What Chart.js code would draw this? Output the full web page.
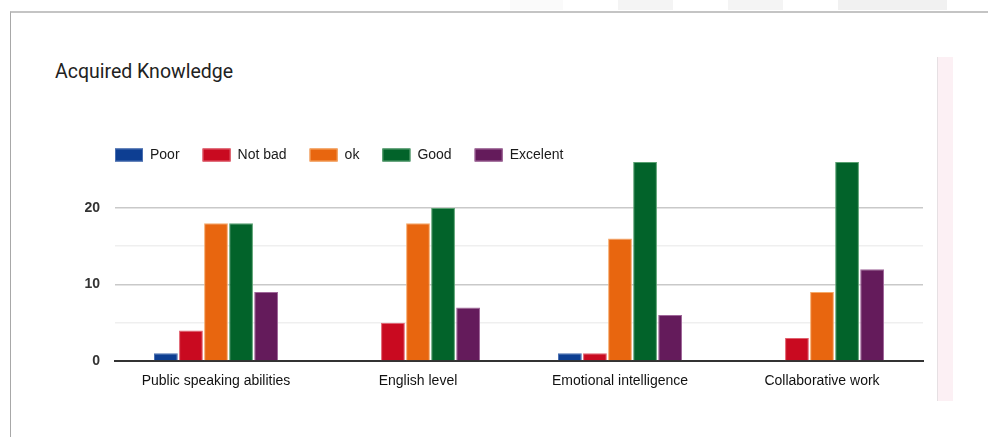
<!DOCTYPE html>
<html>
<head>
<meta charset="utf-8">
<script src="https://cdn.jsdelivr.net/npm/chart.js@4.4.1/dist/chart.umd.min.js"></script>
<style>
  html, body { margin: 0; padding: 0; background: #fff; }
  body { width: 988px; height: 437px; position: relative; overflow: hidden; }
  .tab { position: absolute; top: 0; height: 10px; }
  #frame { position: absolute; left: 10px; top: 11px; right: 0; bottom: 0;
           border-top: 2px solid #c4c4c4; border-left: 1px solid #a8a8a8; }
  #title { position: absolute; left: 55px; top: 60px; line-height: 24px; font-family: Roboto, "Noto Sans", sans-serif;
           font-size: 19.5px; color: #222; }
  #side { position: absolute; left: 937px; top: 57px; width: 16px; height: 344px;
          background: #fcf0f4; border-left: 1px solid #e6e0e3; box-sizing: border-box; }
  #wrap { position: absolute; left: 0; top: 0; width: 988px; height: 437px; }
</style>
</head>
<body>
<div class="tab" style="left:510px;width:53px;background:#fafafa"></div>
<div class="tab" style="left:618px;width:55px;background:#f4f4f4"></div>
<div class="tab" style="left:728px;width:55px;background:#f4f4f4"></div>
<div class="tab" style="left:838px;width:109px;background:#f1f1f1"></div>
<div id="frame"></div>
<div id="title">Acquired Knowledge</div>
<div id="side"></div>
<div id="wrap"><canvas id="c" width="988" height="437"></canvas></div>
<script>
// Survey answers per topic
const categories = ['Public speaking abilities', 'English level', 'Emotional intelligence', 'Collaborative work'];
const seriesNames = ['Poor', 'Not bad', 'ok', 'Good', 'Excelent'];
const poor     = [1, 0, 1, 0];
const notBad   = [4, 5, 1, 3];
const ok       = [18, 18, 16, 9];
const good     = [18, 20, 26, 26];
const excelent = [9, 7, 6, 12];
const yTicksShown = [0, 10, 20];

const fills   = ['#0d3e92', '#c90a20', '#e8660f', '#02632a', '#641b5b'];
const strokes = ['#4a6fb0', '#e0606e', '#f5a968', '#58a070', '#a0679a'];
const seriesValues = [poor, notBad, ok, good, excelent];

// Legend drawn in a single row above the plot area, starting at its left edge
const rowLegend = {
  id: 'rowLegend',
  afterDraw(chart) {
    const ctx = chart.ctx;
    const area = chart.chartArea;
    ctx.save();
    ctx.font = '14px "Liberation Sans", Arial, sans-serif';
    ctx.textBaseline = 'middle';
    let x = area.left;
    const cy = 155;
    chart.data.datasets.forEach(ds => {
      ctx.fillStyle = ds.backgroundColor;
      ctx.fillRect(x, cy - 6.5, 28, 13);
      ctx.strokeStyle = ds.borderColor;
      ctx.lineWidth = 1;
      ctx.strokeRect(x + 0.5, cy - 6, 27, 12);
      ctx.fillStyle = '#1a1a1a';
      ctx.fillText(ds.label, x + 35, cy);
      x += 35 + ctx.measureText(ds.label).width + 23;
    });
    ctx.restore();
  }
};

new Chart(document.getElementById('c'), {
  type: 'bar',
  data: {
    labels: categories,
    datasets: seriesNames.map((name, i) => ({
      label: name,
      data: seriesValues[i],
      backgroundColor: fills[i],
      borderColor: strokes[i],
      borderWidth: 1,
      categoryPercentage: 0.62,
      barPercentage: 0.95
    }))
  },
  options: {
    responsive: false,
    animation: false,
    layout: { padding: { left: 60, right: 65, top: 162, bottom: 40 } },
    plugins: { legend: { display: false }, tooltip: { enabled: false } },
    scales: {
      x: {
        grid: { display: false },
        border: { display: true, color: '#333', width: 2 },
        ticks: { color: '#111', padding: 4, font: { family: '"Liberation Sans", Arial, sans-serif', size: 14 } },
        afterFit(s) { s.height = 36; }
      },
      y: {
        min: 0, max: 26,
        border: { display: false },
        grid: {
          drawTicks: false,
          color: c => {
            const v = c.tick.value;
            if (v === 0 || v === 26) return 'rgba(0,0,0,0)';
            return v % 10 === 0 ? '#c9c9c9' : '#efefef';
          },
          lineWidth: 1.5
        },
        ticks: {
          stepSize: 5,
          padding: 15,
          color: '#333',
          font: { family: '"Liberation Sans", Arial, sans-serif', size: 14, weight: 'bold' },
          callback: v => yTicksShown.includes(v) ? String(v) : ''
        },
        afterFit(s) { s.width = 55; }
      }
    }
  },
  plugins: [rowLegend]
});
</script>
</body>
</html>
